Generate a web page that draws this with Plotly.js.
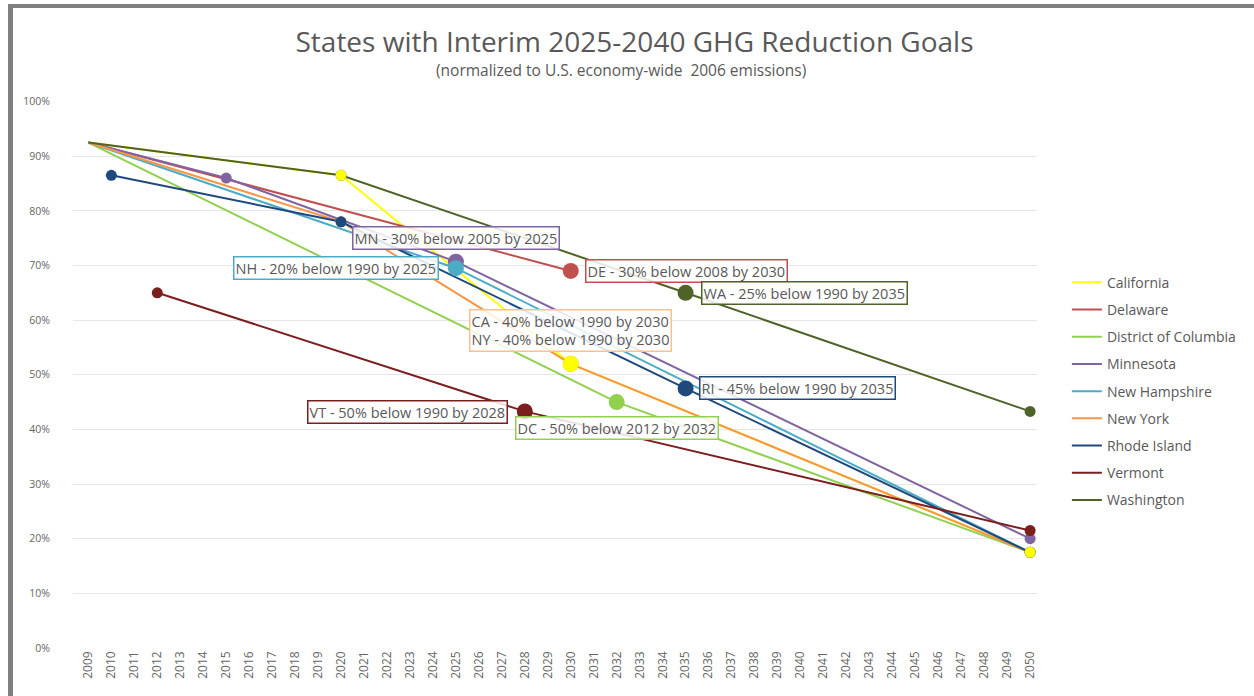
<!DOCTYPE html>
<html>
<head>
<meta charset="utf-8">
<script src="https://cdn.plot.ly/plotly-3.0.1.min.js"></script>
<style>
  body { margin: 0; background: #ffffff; }
  #ghgPlot { width: 1254px; height: 696px; }
  #frame {
    position: absolute; left: 8px; top: 4px; right: 0; bottom: 0;
    border-top: 4px solid #7f7f7f; border-left: 5px solid #7f7f7f;
    pointer-events: none;
  }
</style>
</head>
<body>
<div id="ghgPlot"></div>
<div id="frame"></div>
<script>
// year ticks along the bottom
const tickYears = [2009, 2010, 2011, 2012, 2013, 2014, 2015, 2016, 2017, 2018, 2019, 2020, 2021,
  2022, 2023, 2024, 2025, 2026, 2027, 2028, 2029, 2030, 2031, 2032, 2033, 2034, 2035, 2036,
  2037, 2038, 2039, 2040, 2041, 2042, 2043, 2044, 2045, 2046, 2047, 2048, 2049, 2050];

const stateNames = ['California', 'Delaware', 'District of Columbia', 'Minnesota', 'New Hampshire',
  'New York', 'Rhode Island', 'Vermont', 'Washington'];

// share of 2006 U.S. emissions
const caYears = [2009, 2020, 2030, 2050];
const caValues = [0.925, 0.865, 0.52, 0.175];
const deYears = [2009, 2030];
const deValues = [0.925, 0.69];
const dcYears = [2009, 2032, 2050];
const dcValues = [0.925, 0.45, 0.175];
const mnYears = [2009, 2015, 2025, 2050];
const mnValues = [0.925, 0.86, 0.707, 0.20];
const nhYears = [2009, 2025, 2050];
const nhValues = [0.925, 0.695, 0.175];
const nyYears = [2009, 2020, 2030, 2050];
const nyValues = [0.925, 0.78, 0.52, 0.175];
const riYears = [2010, 2020, 2035, 2050];
const riValues = [0.865, 0.78, 0.475, 0.175];
const vtYears = [2012, 2028, 2050];
const vtValues = [0.65, 0.433, 0.215];
const waYears = [2009, 2020, 2035, 2050];
const waValues = [0.925, 0.865, 0.65, 0.433];

// goal call-outs
const labelStates = ['Minnesota', 'New Hampshire', 'Delaware', 'Washington', 'New York',
  'Rhode Island', 'Vermont', 'District of Columbia'];
const labelYears = [2025, 2025, 2030, 2035, 2030, 2035, 2028, 2032];
const labelTexts = [
  'MN - 30% below 2005 by 2025',
  'NH - 20% below 1990 by 2025',
  'DE - 30% below 2008 by 2030',
  'WA - 25% below 1990 by 2035',
  'CA - 40% below 1990 by 2030<br>NY - 40% below 1990 by 2030',
  'RI - 45% below 1990 by 2035',
  'VT - 50% below 1990 by 2028',
  'DC - 50% below 2012 by 2032'
];

const yearsList = [caYears, deYears, dcYears, mnYears, nhYears, nyYears, riYears, vtYears, waYears];
const valuesList = [caValues, deValues, dcValues, mnValues, nhValues, nyValues, riValues, vtValues, waValues];
const colors = ['#FFFF00', '#C0504D', '#92D050', '#8064A2', '#4BACC6', '#F79646', '#1F497D', '#7B1E1E', '#4F6228'];

const fontFamily = '"Open Sans", "Liberation Sans", sans-serif';
const textColor = '#595959';

const lineTraces = [];
const markerTraces = [];

for( let i = 0; i < stateNames.length; i++ ) {
  const x = yearsList[i];
  const y = valuesList[i];

  lineTraces.push({ x: x,
                    y: y,
                    mode: 'lines',
                    name: stateNames[i],
                    legendgroup: stateNames[i],
                    line: { color: colors[i], width: 2 },
                    hoverinfo: 'skip'
                  });

  // no marker on the common 2009 starting point
  markerTraces.push({ x: x,
                      y: y,
                      mode: 'markers',
                      showlegend: false,
                      name: stateNames[i],
                      legendgroup: stateNames[i],
                      marker: {
                        color: colors[i],
                        opacity: 1,
                        size: x.map( function(yr) { return yr === 2009 ? 0 : (yr >= 2025 && yr <= 2040 ? 16 : 11); } ),
                        line: { width: 0 }
                      }
                    });
}

// California's markers sit on top where the lines meet
markerTraces.push( markerTraces.shift() );
const data = lineTraces.concat( markerTraces );

// offsets of each call-out box from its goal point, in pixels
const placement = [
  { xanchor: 'center', xshift: 0, yshift: 24 },
  { xanchor: 'right', xshift: -17, yshift: 0 },
  { xanchor: 'left', xshift: 14, yshift: 0 },
  { xanchor: 'left', xshift: 15, yshift: 0 },
  { xanchor: 'center', xshift: 0, yshift: 33 },
  { xanchor: 'left', xshift: 13, yshift: 0 },
  { xanchor: 'right', xshift: -17, yshift: -1 },
  { xanchor: 'center', xshift: 0, yshift: -26 }
];
const labelBorders = ['#8064A2', '#4BACC6', '#C0504D', '#4F6228', '#FAC090', '#1F497D', '#7B1E1E', '#92D050'];

const annotations = [];

for( let i = 0; i < labelStates.length; i++ ) {
  const s = stateNames.indexOf( labelStates[i] );
  const idx = yearsList[s].indexOf( labelYears[i] );

  annotations.push({
    x: labelYears[i],
    y: valuesList[s][idx],
    xref: 'x',
    yref: 'y',
    text: labelTexts[i],
    showarrow: false,
    xanchor: placement[i].xanchor,
    yanchor: 'middle',
    xshift: placement[i].xshift,
    yshift: placement[i].yshift,
    align: 'left',
    bgcolor: 'rgba(255,255,255,0.85)',
    bordercolor: labelBorders[i],
    borderwidth: 1.5,
    borderpad: 1,
    font: { family: fontFamily, size: 14.5, color: textColor }
  });
}

annotations.push({
  xref: 'paper', yref: 'paper',
  x: 0.568, y: 1.056,
  xanchor: 'center', yanchor: 'middle',
  showarrow: false,
  text: '(normalized to U.S. economy-wide  2006 emissions)',
  font: { family: fontFamily, size: 15.5, color: textColor }
});

const layout = {
  width: 1254,
  height: 696,
  paper_bgcolor: '#ffffff',
  plot_bgcolor: '#ffffff',
  font: { family: fontFamily, color: textColor },
  title: {
    text: 'States with Interim 2025-2040 GHG Reduction Goals',
    font: { family: fontFamily, size: 28, color: textColor },
    x: 0.506, xanchor: 'center',
    y: 0.94, yanchor: 'middle'
  },
  margin: { l: 73, r: 217, t: 101, b: 48 },
  xaxis: {
    type: 'linear',
    range: [2008.33, 2050.3],
    tickvals: tickYears,
    ticktext: tickYears.map(String),
    tickangle: -90,
    tickfont: { size: 12, color: '#666666' },
    showgrid: false,
    zeroline: false,
    showline: false,
    ticks: ''
  },
  yaxis: {
    range: [0, 1.001],
    dtick: 0.1,
    tickformat: '.0%',
    tickfont: { size: 10.5, color: '#666666' },
    gridcolor: '#e6e6e6',
    gridwidth: 1,
    zeroline: false,
    showline: false,
    ticks: '',
    ticklabelstandoff: 22
  },
  legend: {
    x: 1.031, xanchor: 'left',
    y: 0.697, yanchor: 'top',
    traceorder: 'grouped',
    tracegroupgap: 6,
    font: { size: 14, color: textColor },
    bgcolor: 'rgba(0,0,0,0)'
  },
  annotations: annotations,
  showlegend: true
};

Plotly.newPlot( document.getElementById('ghgPlot'), data, layout, { displayModeBar: false, staticPlot: true } );
</script>
</body>
</html>
